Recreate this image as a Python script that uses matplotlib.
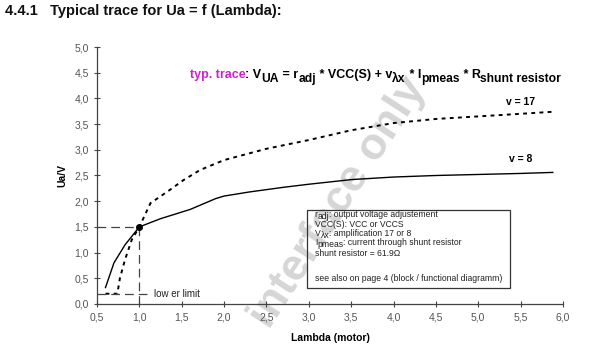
import matplotlib
matplotlib.use('Agg')
import matplotlib.pyplot as plt
from matplotlib.transforms import offset_copy

plt.rcParams['font.family'] = ['Liberation Sans', 'DejaVu Sans']

# curve v = 8 (solid)
lam_v8 = [0.6, 0.7, 0.83, 1.0, 1.25, 1.6, 1.9, 2.0, 2.3, 2.7, 3.0, 3.5, 4.0, 4.5, 5.0, 5.5, 5.88]
ua_v8 = [0.32, 0.8, 1.15, 1.5, 1.66, 1.84, 2.05, 2.1, 2.18, 2.27, 2.33, 2.42, 2.47, 2.5, 2.52, 2.54, 2.56]

# curve v = 17 (dotted)
lam_v17 = [0.6, 0.74, 0.77, 0.83, 0.91, 1.0, 1.13, 1.36, 1.52, 1.72, 2.0, 2.5, 3.0, 3.5, 4.0, 4.5, 5.0, 5.5, 5.88]
ua_v17 = [0.2, 0.2, 0.5, 0.86, 1.25, 1.5, 1.96, 2.22, 2.41, 2.61, 2.8, 3.02, 3.19, 3.38, 3.52, 3.6, 3.65, 3.7, 3.74]

x_ticks = [0.5, 1.0, 1.5, 2.0, 2.5, 3.0, 3.5, 4.0, 4.5, 5.0, 5.5, 6.0]
y_ticks = [0.0, 0.5, 1.0, 1.5, 2.0, 2.5, 3.0, 3.5, 4.0, 4.5, 5.0]

# (text, subscript?) pieces
formula = [(': V', 0), ('UA', 1), (' = r', 0), ('adj', 1), (' * VCC(S) + v', 0), ('\u03bbx', 1),
           (' * I', 0), ('pmeas', 1), (' * R', 0), ('shunt resistor', 1)]
box_lines = [
    [('r', 0), ('adj', 1), (': output voltage adjustement', 0)],
    [('VCC(S): VCC or VCCS', 0)],
    [('V', 0), ('\u03bbx', 1), (': amplification 17 or 8', 0)],
    [('I', 0), ('pmeas', 1), (': current through shunt resistor', 0)],
    [('shunt resistor = 61.9\u03a9', 0)],
    [('see also on page 4 (block / functional diagramm)', 0)],
]
box_y = [1.69, 1.5, 1.33, 1.15, 0.93, 0.44]

fig = plt.figure(figsize=(6, 3.55), dpi=100)
ax = fig.add_axes([0.1617, 0.1437, 0.7766, 0.7239])
ax.set_facecolor('none')
renderer = fig.canvas.get_renderer()


def pieces(x, y, parts, size, subsize, drop, trans, **kw):
    # write text pieces one after another, subscripts lowered
    dx = 0.0
    for txt, sub in parts:
        t = ax.text(x, y, txt, fontsize=subsize if sub else size, va='baseline',
                    transform=offset_copy(trans, fig=fig, x=dx, y=-drop if sub else 0,
                                          units='points'), **kw)
        bb = t.get_window_extent(renderer)
        dx += bb.width * 72 / fig.dpi


# watermark
fig.text(0.565, 0.43, 'interface only', rotation=57, fontsize=32, fontweight='bold',
         color='#d6d6d6', ha='center', va='center', zorder=-5)

ax.plot(lam_v8, ua_v8, color='black', lw=1.0)
ax.plot(lam_v17, ua_v17, color='black', lw=1.4, linestyle=(0, (2, 2.2)))

# reference lines
dash = dict(color='#444444', lw=0.9, linestyle=(0, (7, 4)))
ax.plot([0.5, 1.0], [1.5, 1.5], **dash)
ax.plot([1.0, 1.0], [1.5, 0.0], **dash)
ax.plot([0.5, 1.09], [0.2, 0.2], **dash)
ax.plot([1.0], [1.5], 'o', color='black', ms=4)
ax.text(1.17, 0.2, 'low er limit', fontsize=7, va='center', color='#222222')

ax.text(5.5, 3.93, 'v = 17', fontsize=7.5, fontweight='bold', ha='center', va='center')
ax.text(5.5, 2.82, 'v = 8', fontsize=7.5, fontweight='bold', ha='center', va='center')

# formula
fy = 0.78
fig.text(0.317, fy, 'typ. trace', fontsize=9, fontweight='bold', color='#cc22cc', va='baseline')
pieces(0.409, fy, formula, 9, 8.7, 2.5, fig.transFigure, fontweight='bold', color='black')

# info box
ax.add_patch(plt.Rectangle((2.98, 0.31), 2.4, 1.52, fill=False,
                           edgecolor='#333333', lw=0.9, zorder=3))
for yy, line in zip(box_y, box_lines):
    pieces(3.07, yy, line, 6.2, 6.2, 1.5, ax.transData, color='#222222', zorder=4)

ax.set_xlim(0.5, 6.0)
ax.set_ylim(0, 5)
ax.set_xticks(x_ticks)
ax.set_yticks(y_ticks)
ax.set_xticklabels([f'{v:.1f}'.replace('.', ',') for v in x_ticks])
ax.set_yticklabels([f'{v:.1f}'.replace('.', ',') for v in y_ticks])
ax.tick_params(direction='inout', length=5, width=0.8, colors='#444444', labelsize=7.5,
               labelcolor='#555555')
for s in ['top', 'right']:
    ax.spines[s].set_visible(False)
for s in ['left', 'bottom']:
    ax.spines[s].set_color('#444444')
    ax.spines[s].set_linewidth(0.9)

ax.set_xlabel('Lambda (motor)', fontsize=7.5, fontweight='bold', labelpad=8)
ax.set_ylabel('Ua/V', fontsize=7.5, fontweight='bold', labelpad=5)

fig.text(0.008, 0.97, '4.4.1   Typical trace for Ua = f (Lambda):', fontsize=10.5,
         fontweight='bold', va='center', color='#111111')

fig.savefig('out.png', dpi=100)
